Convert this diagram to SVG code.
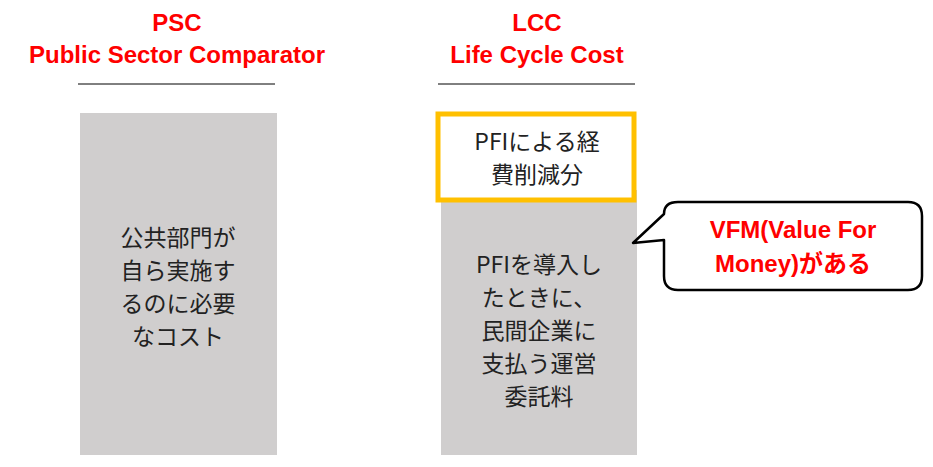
<svg xmlns="http://www.w3.org/2000/svg" width="933" height="467" viewBox="0 0 933 467">
<style>
.t{font-family:"Liberation Sans","Noto Sans CJK JP",sans-serif;font-weight:bold;font-size:24px;fill:#ff0000;text-anchor:middle}
.b{font-family:"Noto Sans CJK JP",sans-serif;font-size:23px;fill:#222;text-anchor:middle}
.g{fill:#d0cece}
</style>
<rect width="933" height="467" fill="#fff"/>
<g id="psc-title"><text class="t" x="177" y="31">PSC</text><text class="t" x="177" y="63">Public Sector Comparator</text><line x1="78" y1="84" x2="275" y2="84" stroke="#000" stroke-width="1"/></g>
<g id="lcc-title"><text class="t" x="537" y="31">LCC</text><text class="t" x="537" y="63">Life Cycle Cost</text><line x1="438" y1="84" x2="635" y2="84" stroke="#000" stroke-width="1"/></g>
<g id="psc"><rect class="g" x="80" y="113" width="197" height="342"/>
<text class="b" x="178" y="246">公共部門が</text><text class="b" x="178" y="279">自ら実施す</text><text class="b" x="178" y="312">るのに必要</text><text class="b" x="178" y="345">なコスト</text></g>
<g id="lcc"><rect class="g" x="441" y="190" width="196" height="265"/>
<text class="b" x="539" y="273">PFIを導入し</text><text class="b" x="539" y="306">たときに、</text><text class="b" x="539" y="339">民間企業に</text><text class="b" x="539" y="372">支払う運営</text><text class="b" x="539" y="405">委託料</text></g>
<g id="pfi"><rect x="438" y="114" width="196" height="86" fill="#fff" stroke="#ffc000" stroke-width="5"/>
<text class="b" x="537" y="150">PFIによる経</text><text class="b" x="537" y="183">費削減分</text></g>
<g id="connectors"></g>
<g id="vfm"><path d="M678,202 H908 Q922,202 922,216 V276 Q922,290 908,290 H678 Q664,290 664,276 V240 L633,243 L664,214 Q664,202 678,202 Z" fill="#fff" stroke="#000" stroke-width="2.5" stroke-linejoin="round"/>
<text class="t" x="793" y="238">VFM(Value For</text><text class="t" x="793" y="272">Money)がある</text></g>
</svg>
